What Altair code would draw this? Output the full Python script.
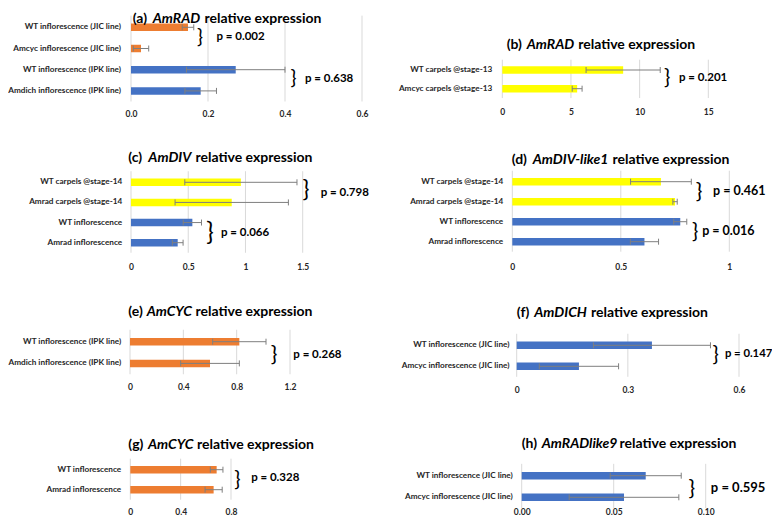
import altair as alt
import pandas as pd

ORANGE = "#ED7D31"
BLUE = "#4472C4"
YELLOW = "#FFFF00"
ERRC = "#7F7F7F"
GRIDC = "#D9D9D9"
TXT = "#262626"
FONT = "Lato"
W, H = 764, 510

# ---------------- data ----------------
a_labels = ["WT inflorescence (JIC line)", "Amcyc inflorescence (JIC line)",
            "WT inflorescence (IPK line)", "Amdich inflorescence (IPK line)"]
a_values = [0.148, 0.026, 0.272, 0.181]
a_errors = [0.015, 0.020, 0.128, 0.041]
a_ticks = [0.0, 0.2, 0.4, 0.6]
a_p = ["p = 0.002", "p = 0.638"]
a_gene = "AmRAD"

b_labels = ["WT carpels @stage-13", "Amcyc carpels @stage-13"]
b_values = [8.8, 5.45]
b_errors = [2.7, 0.36]
b_ticks = [0, 5, 10, 15]
b_p = ["p = 0.201"]
b_gene = "AmRAD"

c_labels = ["WT carpels @stage-14", "Amrad carpels @stage-14",
            "WT inflorescence", "Amrad inflorescence"]
c_values = [0.96, 0.88, 0.536, 0.408]
c_errors = [0.49, 0.495, 0.08, 0.047]
c_ticks = [0, 0.5, 1, 1.5]
c_p = ["p = 0.798", "p = 0.066"]
c_gene = "AmDIV"

d_labels = ["WT carpels @stage-14", "Amrad carpels @stage-14",
            "WT inflorescence", "Amrad inflorescence"]
d_values = [0.685, 0.75, 0.774, 0.609]
d_errors = [0.14, 0.01, 0.03, 0.065]
d_ticks = [0, 0.5, 1]
d_p = ["p = 0.461", "p = 0.016"]
d_gene = "AmDIV-like1"

e_labels = ["WT inflorescence (IPK line)", "Amdich inflorescence (IPK line)"]
e_values = [0.82, 0.60]
e_errors = [0.20, 0.22]
e_ticks = [0, 0.4, 0.8, 1.2]
e_p = ["p = 0.268"]
e_gene = "AmCYC"

f_labels = ["WT inflorescence (JIC line)", "Amcyc inflorescence  (JIC line)"]
f_values = [0.365, 0.168]
f_errors = [0.158, 0.107]
f_ticks = [0, 0.3, 0.6]
f_p = ["p = 0.147"]
f_gene = "AmDICH"

g_labels = ["WT inflorescence", "Amrad inflorescence"]
g_values = [0.686, 0.662]
g_errors = [0.05, 0.068]
g_ticks = [0, 0.4, 0.8]
g_p = ["p = 0.328"]
g_gene = "AmCYC"

h_labels = ["WT inflorescence (JIC line)", "Amcyc inflorescence (JIC line)"]
h_values = [0.0674, 0.0556]
h_errors = [0.0193, 0.0298]
h_ticks = [0.0, 0.05, 0.10]
h_p = ["p = 0.595"]
h_gene = "AmRADlike9"

# ---------------- styles / layout (page pixels, data units for annotations) ----------------
a_colors = [ORANGE, ORANGE, BLUE, BLUE]
b_colors = [YELLOW, YELLOW]
c_colors = [YELLOW, YELLOW, BLUE, BLUE]
d_colors = [YELLOW, YELLOW, BLUE, BLUE]
e_colors = [ORANGE, ORANGE]
f_colors = [BLUE, BLUE]
g_colors = [ORANGE, ORANGE]
h_colors = [BLUE, BLUE]

LAY = {
    "a": dict(x=(131, 362), dom=(0, 0.6), fmt=".1f", c0=27.3, step=21.2, lab_r=120.5, xlab_y=113.3,
              tx3=(132.7, 152.7, 204.5), ty=18.5, tag="(a)",
              bx=[0.179, 0.422], by=[0.45, 2.4], bfs=[20, 20], px=[0.222, 0.452], py=[0.45, 2.45], pfs=11.5),
    "b": dict(x=(502.3, 708.3), dom=(0, 15), fmt="d", c0=70, step=18.7, lab_r=491.7, xlab_y=111,
              tx3=(506.7, 526.7, 578.2), ty=45, tag="(b)",
              bx=[12.0], by=[0.45], bfs=[21], px=[12.87], py=[0.42], pfs=11.5),
    "c": dict(x=(131, 302.7), dom=(0, 1.5), fmt="~f", c0=182.3, step=20.13, lab_r=121.7, xlab_y=266,
              tx3=(128.3, 148.3, 195.5), ty=158.3, tag="(c)",
              bx=[1.528, 0.69], by=[0.4, 2.45], bfs=[23, 25], px=[1.657, 0.786], py=[0.55, 2.52], pfs=11.5),
    "d": dict(x=(512.3, 729.3), dom=(0, 1), fmt="~f", c0=181.7, step=20.0, lab_r=502.7, xlab_y=266,
              tx3=(511.7, 532.7, 612.5), ty=160, tag="(d)",
              bx=[0.861, 0.843], by=[0.45, 2.5], bfs=[22, 21], px=[0.925, 0.875], py=[0.45, 2.45], pfs=12.5),
    "e": dict(x=(130, 290), dom=(0, 1.2), fmt="~f", c0=341.7, step=21.7, lab_r=120.7, xlab_y=386,
              tx3=(128.3, 146.7, 195.5), ty=311.7, tag="(e)",
              bx=[1.08], by=[0.55], bfs=[22], px=[1.225], py=[0.6], pfs=11.5),
    "f": dict(x=(516.7, 739), dom=(0, 0.6), fmt="~f", c0=345.3, step=21.0, lab_r=509, xlab_y=389.3,
              tx3=(516.8, 534.2, 591.0), ty=313.3, tag="(f)",
              bx=[0.537], by=[0.48], bfs=[21], px=[0.562], py=[0.4], pfs=11.3),
    "g": dict(x=(130.3, 231), dom=(0, 0.8), fmt="~f", c0=469.7, step=20.0, lab_r=120.7, xlab_y=511.5,
              tx3=(128.3, 148, 197.0), ty=445, tag="(g)",
              bx=[0.851], by=[0.5], bfs=[21], px=[0.96], py=[0.4], pfs=11.5),
    "h": dict(x=(521.7, 705.7), dom=(0, 0.1), fmt=".2f", c0=475.7, step=21.6, lab_r=512.3, xlab_y=511.8,
              tx3=(521.7, 541.7, 619.5), ty=444.3, tag="(h)",
              bx=[0.0925], by=[0.55], bfs=[22], px=[0.1028], py=[0.55], pfs=13),
}

BAR_THICK = 7.5
TITLE_FS = 14.0
GENE_FS = 14.0
YLAB_FS = 8.2


def panel(labels, values, errors, colors, ticks, pvals, gene, L):
    n = len(labels)
    df = pd.DataFrame({"label": labels, "value": values, "err": errors,
                       "color": colors, "row": list(range(n))})
    df["lo"] = df["value"] - df["err"]
    df["hi"] = df["value"] + df["err"]
    caps = pd.concat([
        pd.DataFrame({"x": df["lo"], "row": df["row"]}),
        pd.DataFrame({"x": df["hi"], "row": df["row"]}),
    ])
    x0, x1 = L["x"][0] - 8, L["x"][1] - 8
    c0 = L["c0"] - 8
    step = L["step"]
    cl = c0 + step * (n - 1)
    xs = alt.Scale(domain=list(L["dom"]), range=[x0, x1], nice=False, zero=False)
    rows = alt.Scale(domain=[0, n - 1], range=[c0, cl], nice=False, zero=False)
    pin = 1 - BAR_THICK / step
    band = alt.Scale(type="band", domain=labels, range=[c0 - step / 2, cl + step / 2],
                     paddingInner=pin, paddingOuter=pin / 2)

    layers = []
    gdf = pd.DataFrame({"t": ticks, "y0": [-0.55] * len(ticks), "y1": [n - 0.5] * len(ticks)})
    layers.append(alt.Chart(gdf).mark_rule(color=GRIDC, strokeWidth=1).encode(
        x=alt.X("t:Q", scale=xs, axis=None),
        y=alt.Y("y0:Q", scale=rows, axis=None),
        y2="y1:Q"))

    xaxis = alt.Axis(orient="bottom", values=ticks, format=L["fmt"], offset=(L["xlab_y"] - 8) - H,
                     grid=False, domain=False, ticks=False, tickSize=0, labelPadding=0,
                     labelBaseline="middle", labelFont=FONT, labelFontWeight="bold",
                     labelFontSize=8.5, labelColor=TXT, title=None, labelFlush=False,
                     labelOverlap=False)
    yaxis = alt.Axis(orient="left", offset=-(L["lab_r"] - 8), grid=False, domain=False, ticks=False,
                     tickSize=0, labelPadding=0, labelFont=FONT, labelFontWeight="bold",
                     labelFontSize=YLAB_FS, labelColor=TXT, title=None, labelLimit=0, labelOverlap=False)
    layers.append(alt.Chart(df).mark_bar().encode(
        x=alt.X("value:Q", scale=xs, axis=xaxis),
        x2=alt.datum(0),
        y=alt.Y("label:N", scale=band, axis=yaxis),
        color=alt.Color("color:N", scale=None, legend=None)))

    layers.append(alt.Chart(df).mark_rule(color=ERRC, strokeWidth=1).encode(
        x=alt.X("lo:Q", scale=xs, axis=None), x2="hi:Q",
        y=alt.Y("row:Q", scale=rows, axis=None)))
    layers.append(alt.Chart(caps).mark_rule(color=ERRC, strokeWidth=1, yOffset=-3, y2Offset=3).encode(
        x=alt.X("x:Q", scale=xs, axis=None),
        y=alt.Y("row:Q", scale=rows, axis=None), y2="row:Q"))

    ann = pd.DataFrame({"p": pvals, "bx": L["bx"], "by": L["by"], "bfs": L["bfs"],
                        "px": L["px"], "py": L["py"], "br": ["}"] * len(pvals)})
    layers.append(alt.Chart(ann).mark_text(font=FONT, fontWeight="normal", color="#000000",
                                           baseline="middle", align="center").encode(
        x=alt.X("bx:Q", scale=xs, axis=None),
        y=alt.Y("by:Q", scale=rows, axis=None),
        size=alt.Size("bfs:Q", scale=None, legend=None),
        text="br:N"))
    layers.append(alt.Chart(ann).mark_text(font=FONT, fontWeight="bold", color="#000000",
                                           fontSize=L["pfs"], baseline="middle", align="left").encode(
        x=alt.X("px:Q", scale=xs, axis=None),
        y=alt.Y("py:Q", scale=rows, axis=None),
        text="p:N"))

    parts = [(L["tag"], "normal", TITLE_FS), (gene, "italic", GENE_FS),
             ("relative expression", "normal", TITLE_FS)]
    for (txt, style, fs), tx in zip(parts, L["tx3"]):
        layers.append(alt.Chart(pd.DataFrame({"t": [txt]})).mark_text(
            font=FONT, fontWeight="bold", fontStyle=style, fontSize=fs, color="#000000",
            align="left", baseline="middle", x=tx - 8, y=L["ty"] - 8).encode(text="t:N"))
    return layers


all_layers = []
all_layers += panel(a_labels, a_values, a_errors, a_colors, a_ticks, a_p, a_gene, LAY["a"])
all_layers += panel(b_labels, b_values, b_errors, b_colors, b_ticks, b_p, b_gene, LAY["b"])
all_layers += panel(c_labels, c_values, c_errors, c_colors, c_ticks, c_p, c_gene, LAY["c"])
all_layers += panel(d_labels, d_values, d_errors, d_colors, d_ticks, d_p, d_gene, LAY["d"])
all_layers += panel(e_labels, e_values, e_errors, e_colors, e_ticks, e_p, e_gene, LAY["e"])
all_layers += panel(f_labels, f_values, f_errors, f_colors, f_ticks, f_p, f_gene, LAY["f"])
all_layers += panel(g_labels, g_values, g_errors, g_colors, g_ticks, g_p, g_gene, LAY["g"])
all_layers += panel(h_labels, h_values, h_errors, h_colors, h_ticks, h_p, h_gene, LAY["h"])

chart = alt.layer(*all_layers).resolve_scale(
    x="independent", y="independent"
).resolve_axis(
    x="independent", y="independent"
).properties(
    width=W, height=H, padding=0, autosize="none", background="white"
).configure_view(strokeWidth=0)

chart.save("out.html", embed_options={"renderer": "svg", "actions": False})
